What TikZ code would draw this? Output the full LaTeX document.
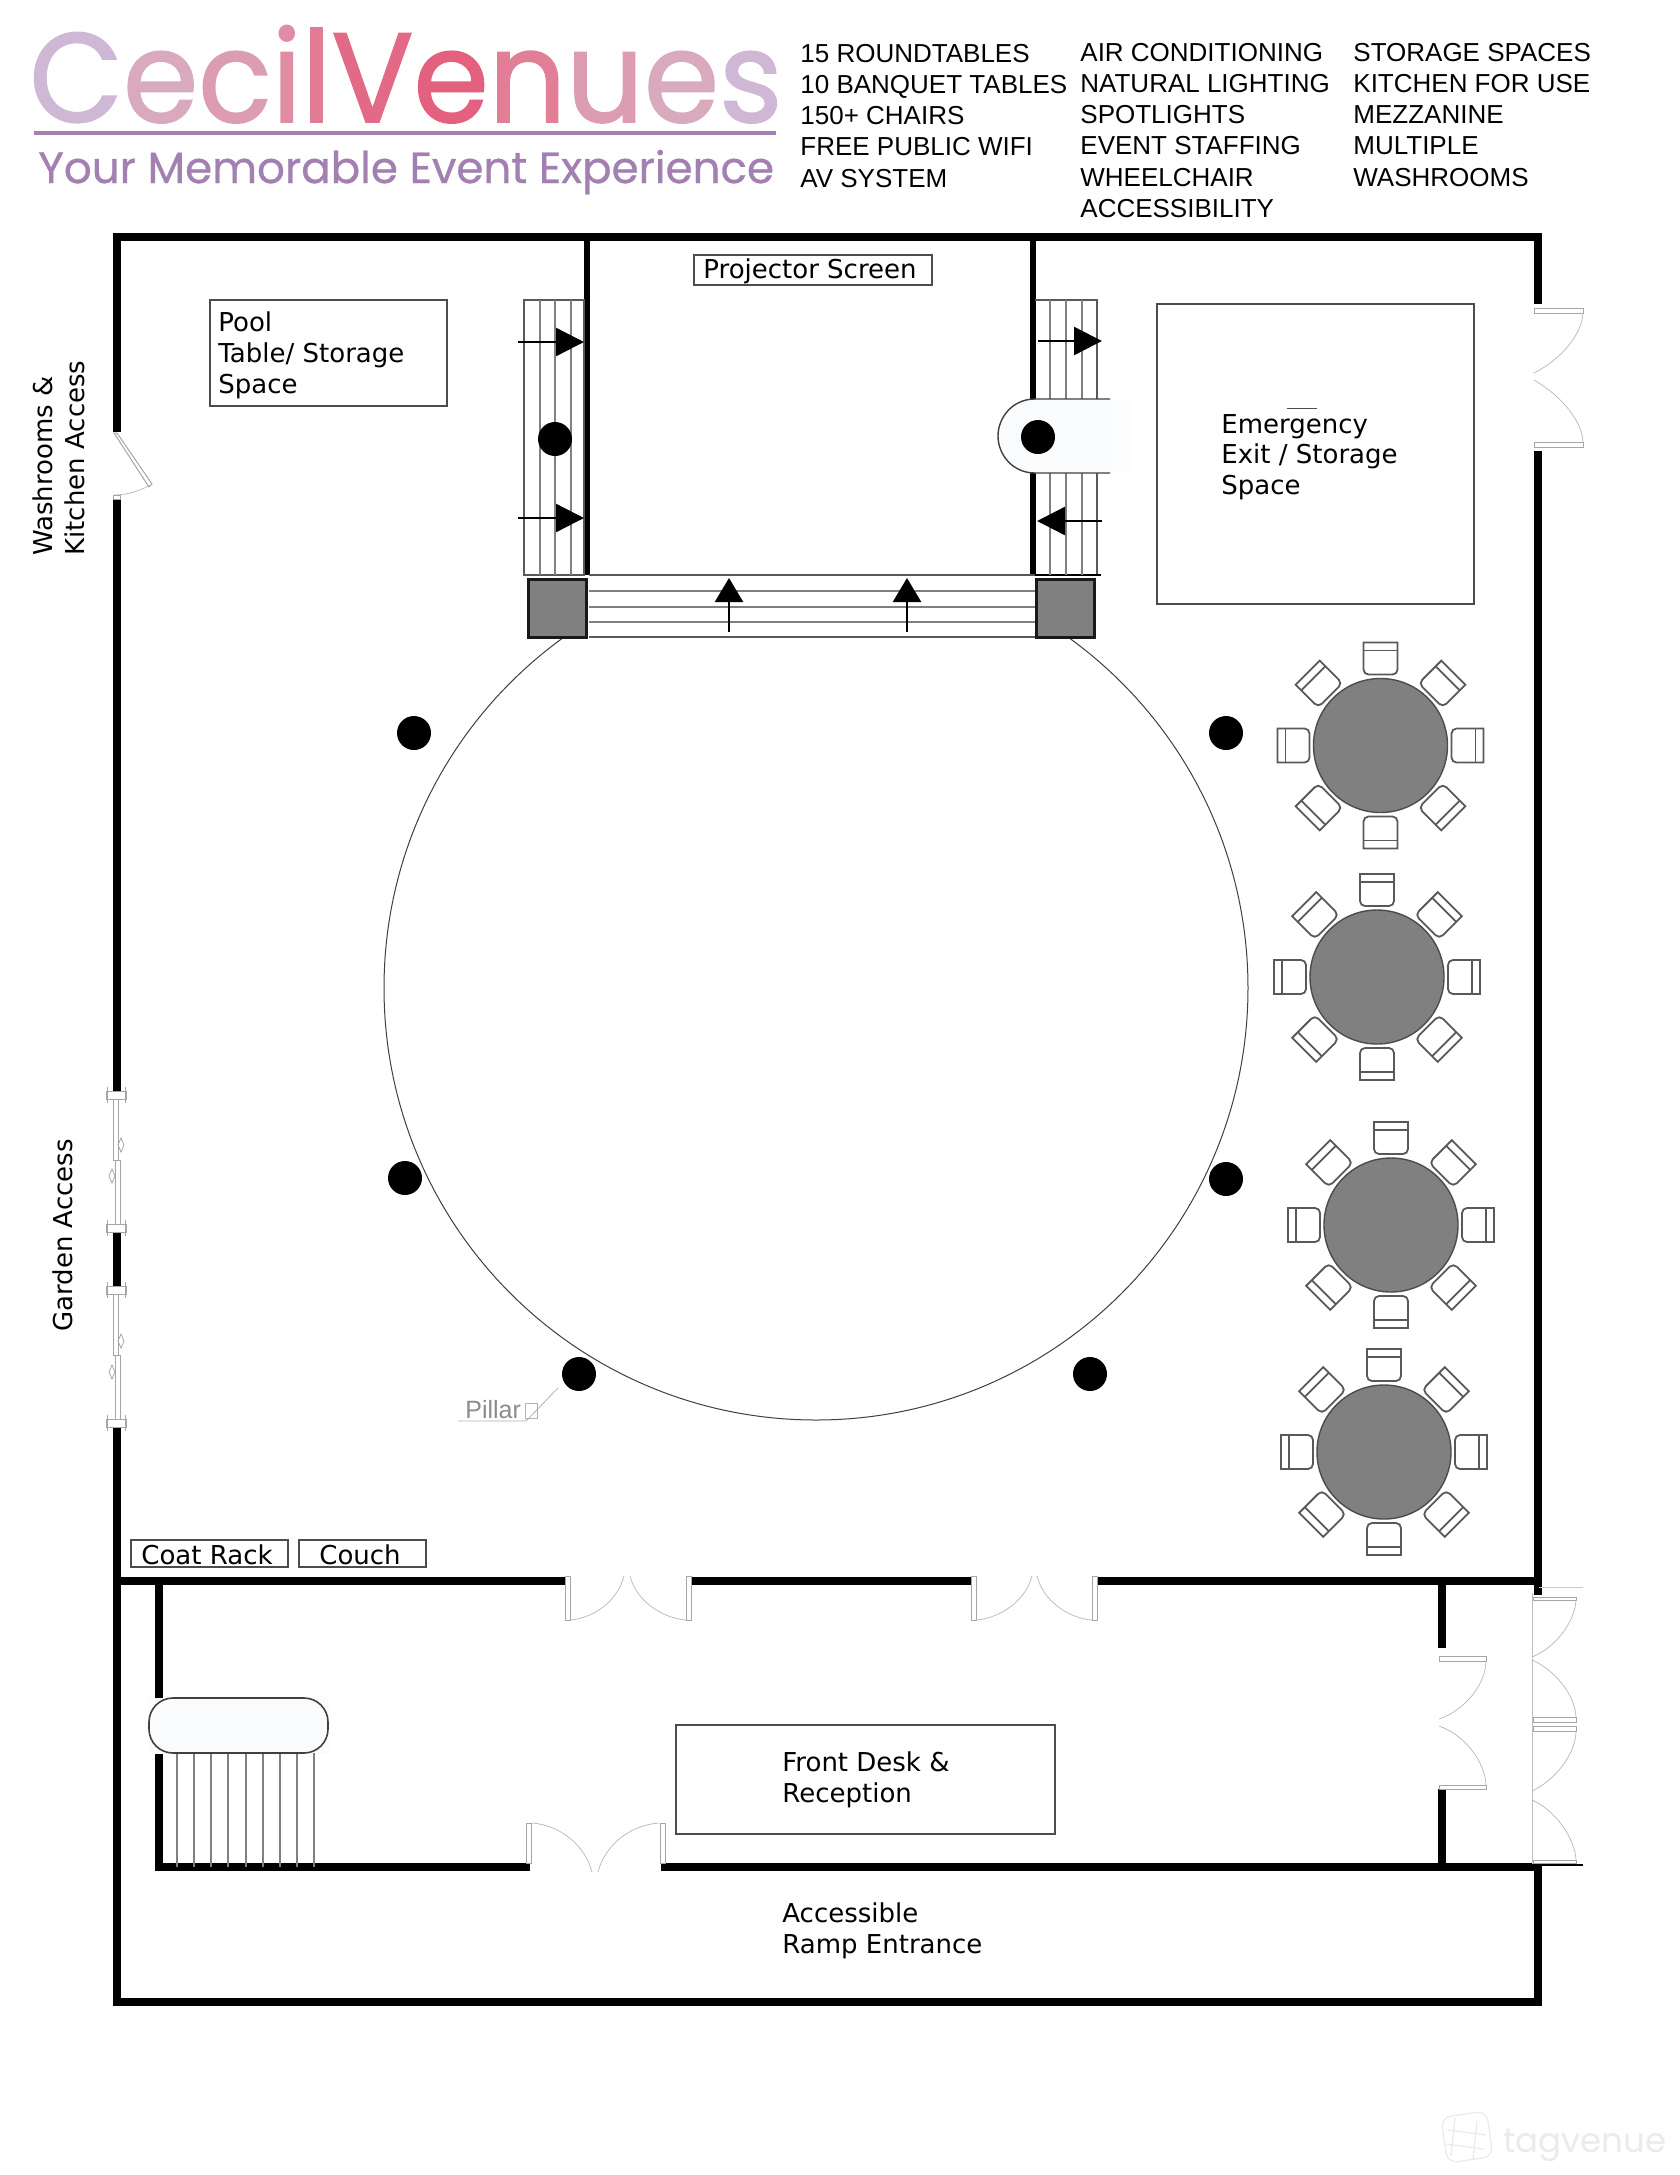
\documentclass[tikz,border=0pt]{standalone}
\usepackage{fontspec}
\usepackage{xcolor}
\usetikzlibrary{arrows.meta,positioning}
\newfontfamily\planfont{DejaVu Sans}
\newfontfamily\listfont{Liberation Sans}
\newfontfamily\logofont[FakeStretch=0.955,FakeBold=1.3]{Poppins}
\newfontfamily\tagfont[FakeBold=0.7]{Poppins}
\newfontfamily\markfont{Poppins}
\definecolor{logoa}{HTML}{CFB8D6}
\definecolor{logob}{HTML}{D9A9BE}
\definecolor{logoc}{HTML}{DD9DB0}
\definecolor{logod}{HTML}{E08DA3}
\definecolor{logoe}{HTML}{E27B94}
\definecolor{logof}{HTML}{E26A86}
\definecolor{logog}{HTML}{E4607F}
\definecolor{logoh}{HTML}{E27F96}
\definecolor{logopurple}{HTML}{A280B2}
\definecolor{benchfill}{HTML}{FAFBFD}
\tikzset{
    x=0.5pt, y=-0.5pt,
    wall/.style={line width=4pt},
    thinwall/.style={line width=3pt},
    labelbox/.style={draw=black!70, line width=0.8pt},
    stairline/.style={draw=black!50, line width=0.6pt},
    stairedge/.style={draw=black!65, line width=0.6pt},
    leaf/.style={draw=black!35, line width=0.5pt, fill=white},
    swing/.style={draw=black!28, line width=0.35pt},
    pillar/.style={fill=black},
    floorarrow/.style={line width=1.2pt, -{Triangle[length=14pt,width=14pt]}},
    planlabel/.style={font=\planfont\fontsize{13}{15.5}\selectfont, anchor=base west, inner sep=0pt},
    listlabel/.style={font=\listfont\fontsize{13}{15.5}\selectfont, anchor=base west, inner sep=0pt},
    chairline/.style={draw=black!65, line width=0.9pt, fill=white},
}
\begin{document}
\begin{tikzpicture}
            \useasboundingbox (0,0) rectangle (1680,2175);
            \fill[white] (0,0) rectangle (1680,2175);

            \node [anchor=base west, inner sep=0pt, font=\logofont\fontsize{63.5}{70}\selectfont] (logo) at (29,122)
                {\textcolor{logoa}{C}\textcolor{logob}{e}\textcolor{logoc}{c}\textcolor{logod}{i}\textcolor{logoe}{l}\textcolor{logof}{V}\textcolor{logog}{e}\textcolor{logoh}{n}\textcolor{logoc}{u}\textcolor{logob}{e}\textcolor{logoa}{s}};
            \draw[logopurple, line width=2pt] (34,133) -- (776,133);
            \node [anchor=base west, inner sep=0pt, text=logopurple, font=\tagfont\fontsize{21.8}{25}\selectfont] (tagline) at (38,183)
                {Your Memorable Event Experience};

            \foreach \txt [count=\i] in {15 ROUNDTABLES,10 BANQUET TABLES,150+ CHAIRS,FREE PUBLIC WIFI,AV SYSTEM}
                \node [listlabel] (lista\i) at (800, 31+31.2*\i) {\txt};
            \foreach \txt [count=\i] in {AIR CONDITIONING,NATURAL LIGHTING,SPOTLIGHTS,EVENT STAFFING,WHEELCHAIR,ACCESSIBILITY}
                \node [listlabel] (listb\i) at (1080, 30+31.2*\i) {\txt};
            \foreach \txt [count=\i] in {STORAGE SPACES,KITCHEN FOR USE,MEZZANINE,MULTIPLE,WASHROOMS}
                \node [listlabel] (listc\i) at (1353, 30+31.2*\i) {\txt};

            \draw[wall] (117,432) -- (117,237) -- (1538,237) -- (1538,304);
            \draw[wall] (117,497) -- (117,1095);
            \draw[wall] (117,1228) -- (117,1290);
            \draw[wall] (117,1423) -- (117,2002) -- (1538,2002) -- (1538,1867);
            \draw[wall] (1538,451) -- (1538,1595);
            \draw[wall] (117,1581) -- (567,1581);
            \draw[wall] (691,1581) -- (971,1581);
            \draw[wall] (1097,1581) -- (1542,1581);
            \draw[wall] (158.5,1581) -- (158.5,1867) -- (530,1867);
            \draw[wall] (661,1867) -- (1542,1867);
            \draw[wall] (1442,1581) -- (1442,1648);
            \draw[wall] (1442,1789) -- (1442,1867);
            \draw[thinwall] (586.5,237) -- (586.5,575);
            \draw[thinwall] (1032.5,237) -- (1032.5,575);

            \node [labelbox, minimum width=119pt, minimum height=15pt, inner sep=0pt] (screenbox) at (813,270) {};
            \node [planlabel] (screen) at (703,278) {Projector Screen};
            \draw[labelbox] (210,300) rectangle (447,406);
            \node [planlabel] (poola) at (218,331) {Pool};
            \node [planlabel] (poolb) at (218,362) {Table/ Storage};
            \node [planlabel] (poolc) at (218,393) {Space};
            \draw[labelbox] (1157,304) rectangle (1474,604);
            \node [planlabel] (exita) at (1221,433) {Emergency};
            \node [planlabel] (exitb) at (1221,463) {Exit / Storage};
            \node [planlabel] (exitc) at (1221,494) {Space};
            \draw[black!70, line width=0.5pt] (1287,408) -- (1317,408);
            \draw[labelbox] (131,1540) rectangle (288,1567);
            \node [planlabel] (coat) at (141,1564) {Coat Rack};
            \draw[labelbox] (299,1540) rectangle (426,1567);
            \node [planlabel] (couch) at (319,1564) {Couch};
            \draw[labelbox] (676,1725) rectangle (1055,1834);
            \node [planlabel] (deska) at (782,1771) {Front Desk \&};
            \node [planlabel] (deskb) at (782,1802) {Reception};
            \node [planlabel] (rampa) at (782,1922) {Accessible};
            \node [planlabel] (rampb) at (782,1953) {Ramp Entrance};
            \node [planlabel, rotate=90] (washa) at (53,556) {Washrooms \&};
            \node [planlabel, rotate=90] (washb) at (84,556) {Kitchen Access};
            \node [planlabel, rotate=90] (garden) at (72,1332) {Garden Access};

            \begin{scope}
                \clip (300,637) rectangle (1300,1500);
                \draw[black!75, line width=0.5pt] (816,988) circle [radius=432];
            \end{scope}

            \draw[stairedge] (524,300) rectangle (584,575);
            \foreach \x in {540,555,571}
                \draw[stairline] (\x,300) -- (\x,575);
            \draw[stairedge] (1035,300) -- (1097,300) -- (1097,575);
            \draw[black, line width=0.8pt] (1035,575) -- (1101,575);
            \foreach \x in {1050,1066,1082}
                \draw[stairline] (\x,300) -- (\x,575);
            \draw[stairedge] (589,575) -- (1035,575);
            \draw[stairedge] (589,637) -- (1035,637);
            \foreach \y in {591,607,622}
                \draw[stairline] (589,\y) -- (1035,\y);

            \fill[white!50!benchfill] (1104,400) rectangle (1130,472);
            \draw[fill=benchfill, draw=black!75, line width=0.7pt] (1110,399) -- (1035,399)
                .. controls (1012,399) and (998,418) .. (998,436)
                .. controls (998,454) and (1012,473) .. (1035,473) -- (1110,473);

            \foreach \x in {528,1036}
                \draw[fill=black!50, draw=black!90, line width=1.5pt] (\x,579) rectangle (\x+58,637);

            \draw[floorarrow] (518,342) -- (584,342);
            \draw[floorarrow] (518,518) -- (584,518);
            \draw[floorarrow] (1038,341) -- (1102,341);
            \draw[floorarrow] (1102,521) -- (1037,521);
            \draw[floorarrow, -{Triangle[length=12pt,width=14pt]}] (729,632) -- (729,578);
            \draw[floorarrow, -{Triangle[length=12pt,width=14pt]}] (907,632) -- (907,578);

            \foreach \x/\y in {555/439,1038/437,414/733,1226/733,405/1178,1226/1179,579/1374,1090/1374}
                \fill[pillar] (\x,\y) circle [radius=17];

            \foreach \tx/\ty in {1380.5/745.5,1377/977,1391/1225,1384/1452} {
                \foreach \ang in {0,45,...,315} {
                    \begin{scope}[shift={(\tx,\ty)},rotate=\ang]
                        \draw[chairline] (17,-85) [rounded corners=2.5pt] -- (17,-71) -- (-17,-71) -- (-17,-85)
                            [sharp corners] -- (-17,-103) -- (17,-103) -- cycle;
                        \draw[chairline] (-17,-95) -- (17,-95);
                    \end{scope}
                }
                \fill[black!50] (\tx,\ty) circle [radius=67];
                \draw[black!70, line width=0.7pt] (\tx,\ty) circle [radius=67];
            }

            \node [anchor=base west, inner sep=0pt, text=black!45, font=\listfont\fontsize{12.5}{15}\selectfont] (pillarname) at (465,1418) {Pillar};
            \draw[black!30, line width=0.4pt] (525,1403) rectangle (537,1418);
            \draw[black!30, line width=0.4pt] (458,1421) -- (526,1421) -- (558,1388);

            \draw[leaf] (114,433) -- (117,433) -- (152,484) -- (149,487) -- cycle;
            \draw[swing] (150,485) .. controls (140,491) and (127,495) .. (114,495);
            \draw[leaf] (113,495) rectangle (120,499);

            \draw[leaf] (1534,308) rectangle (1583,313);
            \draw[leaf] (1534,442) rectangle (1583,447);
            \draw[swing] (1583,313) .. controls (1582,335) and (1560,360) .. (1534,373);
            \draw[swing] (1583,442) .. controls (1582,420) and (1560,395) .. (1534,380);

            \draw[leaf] (565,1576) rectangle (570,1620);
            \draw[leaf] (686,1576) rectangle (691,1620);
            \draw[swing] (570,1620) .. controls (595,1618) and (618,1600) .. (624,1576);
            \draw[swing] (686,1620) .. controls (661,1618) and (636,1600) .. (630,1576);
            \draw[leaf] (971,1576) rectangle (976,1620);
            \draw[leaf] (1092,1576) rectangle (1097,1620);
            \draw[swing] (976,1620) .. controls (1001,1618) and (1026,1600) .. (1032,1576);
            \draw[swing] (1092,1620) .. controls (1067,1618) and (1043,1600) .. (1037,1576);

            \draw[leaf] (526,1823) rectangle (531,1863);
            \draw[leaf] (660,1823) rectangle (665,1863);
            \draw[swing] (532,1823) .. controls (560,1825) and (585,1845) .. (592,1872);
            \draw[swing] (659,1823) .. controls (630,1825) and (605,1845) .. (598,1872);

            \draw[leaf] (1439,1656) rectangle (1486,1661);
            \draw[leaf] (1439,1785) rectangle (1486,1789);
            \draw[swing] (1486,1662) .. controls (1485,1685) and (1465,1710) .. (1439,1719);
            \draw[swing] (1486,1785) .. controls (1485,1762) and (1465,1735) .. (1439,1726);

            \draw[black!25, line width=0.4pt] (1532,1593) -- (1532,1865);
            \draw[black!20, line width=0.4pt] (1539,1587) -- (1583,1587);
            \draw[black, line width=1pt] (1532,1865) -- (1583,1865);
            \draw[leaf] (1533,1597) rectangle (1576,1600);
            \draw[leaf] (1533,1717) rectangle (1576,1722);
            \draw[leaf] (1533,1726) rectangle (1576,1731);
            \draw[leaf] (1533,1860) rectangle (1576,1863);
            \draw[swing] (1576,1600) .. controls (1575,1622) and (1555,1648) .. (1532,1657);
            \draw[swing] (1532,1660) .. controls (1555,1670) and (1575,1695) .. (1576,1717);
            \draw[swing] (1576,1732) .. controls (1575,1755) and (1555,1780) .. (1532,1791);
            \draw[swing] (1532,1800) .. controls (1555,1810) and (1575,1838) .. (1576,1860);

            \foreach \y in {1095,1228,1290,1423} {
                \draw[leaf] (106,\y-4) rectangle (126,\y+4);
                \draw[black!35, line width=0.4pt] (107,\y-8) -- (107,\y+8);
                \draw[black!35, line width=0.4pt] (125,\y-8) -- (125,\y+8);
            }
            \foreach \y in {1099,1294} {
                \draw[leaf] (113,\y) rectangle (118,\y+61);
                \draw[leaf] (115,\y+61) rectangle (120,\y+125);
            }
            \foreach \x/\y in {121/1145,112/1176,121/1341,112/1372}
                \draw[black!35, line width=0.4pt] (\x,\y-7) -- (\x+3,\y) -- (\x,\y+7) -- (\x-3,\y) -- cycle;

            \draw[benchfill, fill=benchfill] (149,1698) rectangle (328,1753);
            \foreach \x in {177,194,211,228,246,263,280,297,314}
                \draw[stairline] (\x,1753) -- (\x,1867);
            \draw[fill=benchfill, draw=black!75, line width=0.8pt, rounded corners=12pt] (149,1698) rectangle (328,1753);

            \draw[black!8, line width=0.6pt, rounded corners=5pt, rotate around={8:(1467,2137)}] (1444,2114) rectangle (1490,2160);
            \foreach \a/\b/\c/\d in {1455/2118/1451/2156,1477/2121/1473/2159,1448/2130/1486/2135,1446/2144/1484/2149}
                \draw[black!8, line width=0.6pt] (\a,\b) -- (\c,\d);
            \node [anchor=base west, inner sep=0pt, text=black!8, font=\markfont\fontsize{17}{20}\selectfont] (watermark) at (1503,2152) {tagvenue};
\end{tikzpicture}
\end{document}
